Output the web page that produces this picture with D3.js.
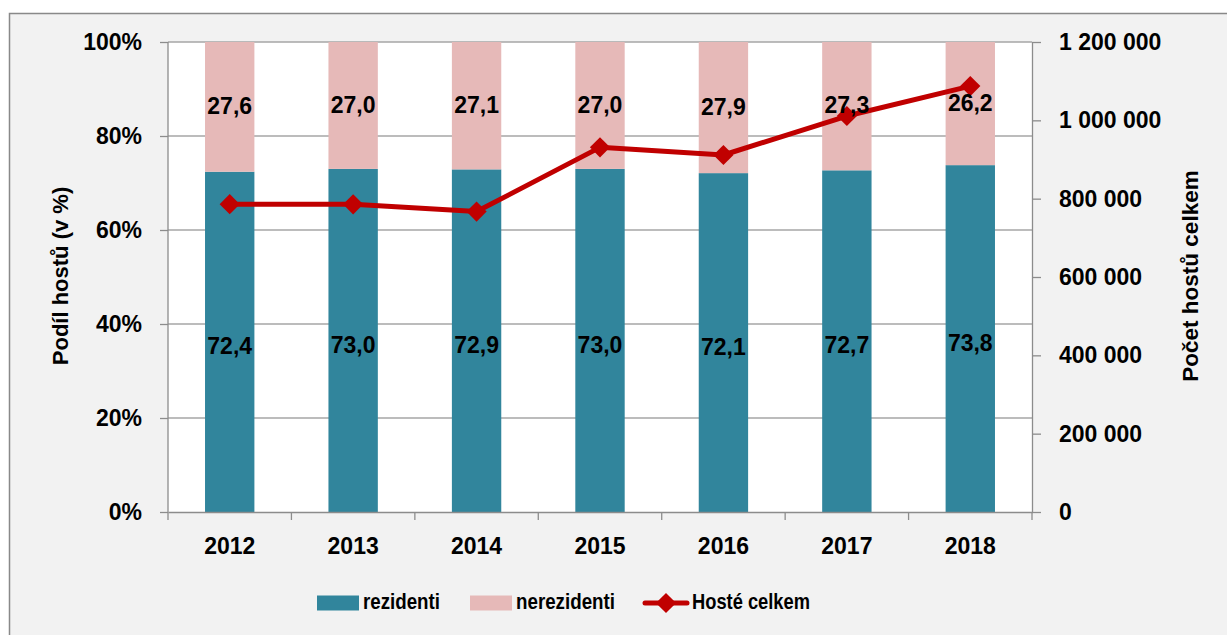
<!DOCTYPE html>
<html><head><meta charset="utf-8">
<script src="https://cdn.jsdelivr.net/npm/d3@7"></script>
<style>
html,body{margin:0;padding:0;background:#fff;}
svg text{font-family:"Liberation Sans",Arial,sans-serif;font-weight:bold;fill:#000;}
</style></head>
<body><div id="chart"></div>
<script>
const years = ["2012","2013","2014","2015","2016","2017","2018"];
const rezidenti = [72.4,73.0,72.9,73.0,72.1,72.7,73.8];
const nerezidenti = [27.6,27.0,27.1,27.0,27.9,27.3,26.2];
const hosteCelkem = [786000,785500,767000,931000,911500,1011000,1087500];
const leftTicks = [0,20,40,60,80,100];
const rightTicks = [0,200000,400000,600000,800000,1000000,1200000];

const W=1227,H=635;
const m={left:168,right:1032,top:42,bottom:512};
const colRez="#31859c", colNerez="#e6b9b8", colLine="#c00000";
const fs=23;

const svg=d3.select("#chart").append("svg").attr("width",W).attr("height",H);
svg.append("rect").attr("x",9.5).attr("y",13.5).attr("width",W+10).attr("height",H+10)
  .attr("fill","#f2f2f2").attr("stroke","#898989").attr("stroke-width",1.5);
svg.append("rect").attr("x",m.left).attr("y",m.top).attr("width",m.right-m.left).attr("height",m.bottom-m.top).attr("fill","#fff");

const x=d3.scaleBand().domain(years).range([m.left,m.right]).paddingInner(0.6).paddingOuter(0.3);
const xb=d3.scaleBand().domain(years).range([m.left,m.right]);
const yL=d3.scaleLinear().domain([0,100]).range([m.bottom,m.top]);
const yR=d3.scaleLinear().domain([0,1200000]).range([m.bottom,m.top]);

// gridlines
svg.append("g").selectAll("line").data(leftTicks.slice(1)).join("line")
  .attr("x1",m.left).attr("x2",m.right).attr("y1",d=>yL(d)).attr("y2",d=>yL(d))
  .attr("stroke","#a6a6a6").attr("stroke-width",1.3);

// bars
const rows=years.map((y,i)=>({year:y,rezidenti:rezidenti[i],nerezidenti:nerezidenti[i]}));
const stack=d3.stack().keys(["rezidenti","nerezidenti"])(rows);
const colors={rezidenti:colRez,nerezidenti:colNerez};
svg.append("g").selectAll("g").data(stack).join("g").attr("fill",d=>colors[d.key])
  .selectAll("rect").data(d=>d).join("rect")
  .attr("x",d=>x(d.data.year)).attr("width",x.bandwidth())
  .attr("y",d=>yL(d[1])).attr("height",d=>yL(d[0])-yL(d[1]));

// axes
const fmtR=d=>d3.format(",")(d).replace(/,/g," ");
const axL=svg.append("g").attr("transform",`translate(${m.left},0)`)
  .call(d3.axisLeft(yL).tickValues(leftTicks).tickFormat(d=>d+"%").tickSizeOuter(0).tickSizeInner(8).tickPadding(18));
const axR=svg.append("g").attr("transform",`translate(${m.right},0)`)
  .call(d3.axisRight(yR).tickValues(rightTicks).tickFormat(fmtR).tickSizeOuter(0).tickSizeInner(9).tickPadding(18));
const axB=svg.append("g").attr("transform",`translate(0,${m.bottom})`)
  .call(d3.axisBottom(xb).tickSizeOuter(0).tickSize(0).tickPadding(26));
// category boundary ticks
svg.append("g").selectAll("line").data(years.concat(["end"])).join("line")
  .attr("x1",(d,i)=>m.left+i*xb.step()).attr("x2",(d,i)=>m.left+i*xb.step())
  .attr("y1",m.bottom).attr("y2",m.bottom+8).attr("stroke","#8c8c8c").attr("stroke-width",1.3);
[axL,axR,axB].forEach(a=>{
  a.selectAll("path.domain").attr("stroke","#8c8c8c").attr("stroke-width",1.3);
  a.selectAll(".tick line").attr("stroke","#8c8c8c").attr("stroke-width",1.3);
  a.selectAll("text").style("font-size",fs+"px").style("font-family","'Liberation Sans',Arial,sans-serif").style("font-weight","bold").attr("fill","#000");
});
axL.select("path.domain").attr("d",`M0,${m.bottom}V${m.top}`);

// line
const line=d3.line().x((d,i)=>xb(years[i])+xb.bandwidth()/2).y(d=>yR(d));
svg.append("path").datum(hosteCelkem).attr("d",line).attr("fill","none")
  .attr("stroke",colLine).attr("stroke-width",5).attr("stroke-linejoin","round");
const diamond=d3.symbol().type(d3.symbolDiamond2).size(260);
svg.append("g").selectAll("path").data(hosteCelkem).join("path")
  .attr("d",diamond).attr("fill",colLine)
  .attr("transform",(d,i)=>`translate(${xb(years[i])+xb.bandwidth()/2},${yR(d)})`);

// data labels
const fmtV=d=>d.toFixed(1).replace(".",",");
svg.append("g").selectAll("text").data(stack.flatMap(s=>s.map(d=>({d,key:s.key})))).join("text")
  .attr("x",o=>x(o.d.data.year)+x.bandwidth()/2)
  .attr("y",o=>(yL(o.d[0])+yL(o.d[1]))/2+(o.key==="rezidenti"?6:1))
  .attr("text-anchor","middle").attr("dominant-baseline","middle")
  .style("font-size","23px").text(o=>fmtV(o.d.data[o.key]));

// axis titles
svg.append("text").attr("transform","translate(62,276) rotate(-90)").attr("text-anchor","middle")
  .attr("dominant-baseline","middle").style("font-size","22px").text("Podíl hostů (v %)");
svg.append("text").attr("transform","translate(1192,276) rotate(-90)").attr("text-anchor","middle")
  .attr("dominant-baseline","middle").style("font-size","22.5px").text("Počet hostů celkem");

// legend
const lg=svg.append("g");
const ly=603;
const lf="22px";
lg.append("rect").attr("x",317).attr("y",ly-7.5).attr("width",42).attr("height",15).attr("fill",colRez);
lg.append("text").attr("x",363).attr("y",ly).attr("dominant-baseline","middle").style("font-size",lf)
  .attr("textLength",77).attr("lengthAdjust","spacingAndGlyphs").text("rezidenti");
lg.append("rect").attr("x",470).attr("y",ly-7.5).attr("width",42).attr("height",15).attr("fill",colNerez);
lg.append("text").attr("x",516).attr("y",ly).attr("dominant-baseline","middle").style("font-size",lf)
  .attr("textLength",99).attr("lengthAdjust","spacingAndGlyphs").text("nerezidenti");
lg.append("line").attr("x1",645).attr("x2",687).attr("y1",ly).attr("y2",ly).attr("stroke",colLine).attr("stroke-width",5).attr("stroke-linecap","round");
lg.append("path").attr("d",diamond).attr("fill",colLine).attr("transform",`translate(666,${ly})`);
lg.append("text").attr("x",692).attr("y",ly).attr("dominant-baseline","middle").style("font-size",lf)
  .attr("textLength",118).attr("lengthAdjust","spacingAndGlyphs").text("Hosté celkem");
</script></body></html>
